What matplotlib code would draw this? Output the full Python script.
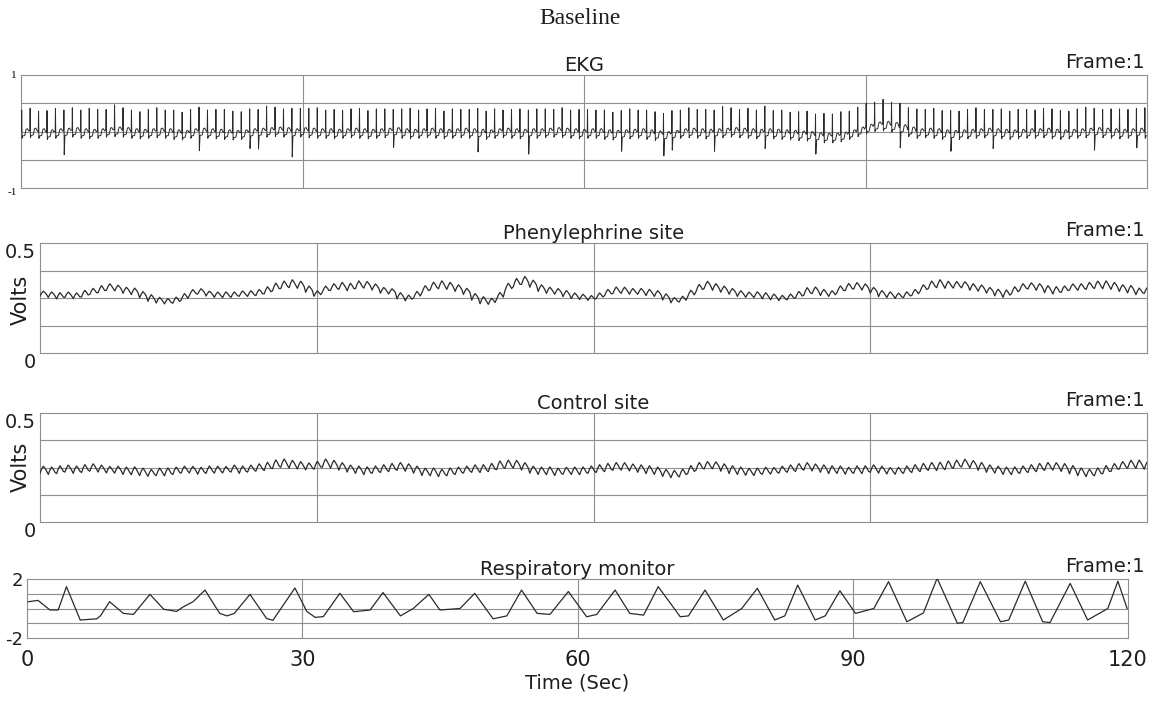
import numpy as np
import matplotlib
matplotlib.use('Agg')
import matplotlib.pyplot as plt

plt.rcParams['axes.unicode_minus'] = False
plt.rcParams['font.family'] = 'DejaVu Sans'

# ---------------- data ----------------
beat_period = 0.9          # s, heart rate is nearly constant over the record
resp_seconds = [0.15, 1.2, 2.5, 3.4, 4.3, 5.8, 7.6, 8.0, 9.0, 10.5, 11.6, 13.4, 14.9, 16.3, 17.0, 18.1,
                19.4, 21.0, 21.8, 22.6, 24.3, 26.1, 26.8, 29.2, 30.5, 31.4, 32.3, 34.1, 35.6, 37.4,
                38.8, 40.7, 42.1, 43.8, 45.0, 47.2, 48.8, 50.8, 52.3, 53.9, 55.6, 57.0, 59.0, 61.0,
                62.1, 64.1, 65.7, 67.2, 68.8, 71.2, 72.1, 73.9, 75.9, 77.9, 79.6, 81.5, 82.6, 84.0,
                85.9, 87.0, 88.6, 90.3, 92.3, 93.9, 95.9, 97.7, 99.2, 101.4, 102.0, 103.9, 106.1,
                107.0, 108.8, 110.7, 111.5, 113.7, 115.6, 117.8, 118.9, 119.9]
resp_volts = [0.46, 0.55, -0.1, -0.1, 1.48, -0.78, -0.7, -0.5, 0.46, -0.33, -0.4, 0.96, -0.05, -0.2, 0.1, 0.46,
              1.25, -0.33, -0.5, -0.33, 0.96, -0.67, -0.8, 1.39, -0.2, -0.6, -0.55, 1.03, -0.22, -0.1,
              1.08, -0.5, 0.0, 0.96, -0.1, 0.0, 1.03, -0.7, -0.5, 1.25, -0.33, -0.4, 1.15, -0.56,
              -0.4, 1.25, -0.33, -0.45, 1.48, -0.56, -0.5, 1.25, -0.78, 0.0, 1.37, -0.78, -0.5, 1.59,
              -0.78, -0.5, 1.2, -0.33, 0.0, 1.82, -0.9, -0.3, 2.05, -1.0, -0.95, 1.82, -0.9,
              -0.78, 1.85, -0.9, -0.95, 1.7, -0.78, 0.0, 1.85, 0.0]

# EKG: per-beat baseline and R height (volts)
ekg_baseline = [0.00, 0.01, 0.00, -0.02, 0.00, 0.01, 0.02, 0.00, -0.01, 0.00, 0.02, 0.03,
                0.02, 0.00, -0.01, 0.00, 0.01, 0.00, -0.02, -0.03, 0.00, 0.01, 0.00, -0.01,
                -0.02, -0.03, -0.02, 0.00, 0.01, 0.02, 0.03, 0.02, 0.00, 0.02, 0.01, 0.00,
                0.00, -0.01, 0.00, 0.01, 0.00, -0.01, 0.00, 0.01, 0.02, 0.00, -0.01, 0.00,
                0.01, 0.00, -0.01, 0.00, 0.01, 0.00, -0.01, -0.02, 0.00, 0.01, 0.00, -0.01,
                0.00, 0.00, 0.01, 0.02, 0.01, 0.00, -0.01, 0.00, 0.00, -0.02, -0.03, -0.02,
                -0.01, 0.00, -0.02, -0.04, -0.05, -0.03, 0.00, 0.01, 0.00, -0.01, 0.00, 0.01,
                0.02, 0.01, 0.00, -0.01, 0.00, -0.01, -0.02, -0.03, -0.04, -0.05, -0.07, -0.08,
                -0.08, -0.06, -0.02, 0.03, 0.08, 0.12, 0.13, 0.11, 0.07, 0.03, 0.00, 0.01,
                0.00, -0.02, -0.03, -0.02, -0.01, 0.00, 0.01, 0.00, -0.01, -0.02, -0.01, 0.00,
                0.00, 0.01, -0.01, -0.02, -0.01, 0.00, 0.01, 0.02, 0.01, 0.00, -0.01, 0.00, 0.01, 0.00]
ekg_r_height = [0.38, 0.40, 0.36, 0.39, 0.41, 0.37, 0.40, 0.38, 0.42, 0.39, 0.37, 0.44,
                0.40, 0.38, 0.36, 0.39, 0.41, 0.38, 0.40, 0.37, 0.39, 0.42, 0.38, 0.40,
                0.41, 0.39, 0.37, 0.40, 0.38, 0.43, 0.40, 0.38, 0.41, 0.39, 0.40, 0.42,
                0.38, 0.40, 0.37, 0.39, 0.41, 0.38, 0.40, 0.39, 0.37, 0.40, 0.42, 0.38,
                0.39, 0.41, 0.37, 0.40, 0.38, 0.39, 0.42, 0.38, 0.40, 0.37, 0.39, 0.41,
                0.38, 0.40, 0.39, 0.37, 0.41, 0.38, 0.40, 0.39, 0.38, 0.40, 0.37, 0.39,
                0.41, 0.38, 0.40, 0.39, 0.37, 0.40, 0.38, 0.41, 0.39, 0.40, 0.38, 0.43,
                0.40, 0.38, 0.41, 0.39, 0.45, 0.38, 0.40, 0.37, 0.39, 0.41, 0.38, 0.40,
                0.39, 0.41, 0.38, 0.40, 0.42, 0.40, 0.44, 0.41, 0.43, 0.39, 0.40, 0.38,
                0.41, 0.39, 0.40, 0.38, 0.40, 0.42, 0.38, 0.39, 0.41, 0.38, 0.40, 0.39,
                0.38, 0.40, 0.41, 0.39, 0.37, 0.40, 0.42, 0.39, 0.38, 0.40, 0.41, 0.39, 0.40, 0.42]
ekg_deep_s_beats = [5, 21, 27, 28, 32, 44, 54, 60, 71, 76, 77, 82, 88, 94, 104, 110, 115, 127, 132]
ekg_deep_s_volts = [-0.42, -0.35, -0.30, -0.32, -0.45, -0.30, -0.35, -0.40, -0.33, -0.38,
                    -0.30, -0.35, -0.30, -0.33, -0.36, -0.32, -0.30, -0.35, -0.30]
ekg_s_volts = -0.12
# one beat: fraction of period and volts above baseline (R and S filled per beat)
ekg_beat_phase = [0.0, 0.05, 0.08, 0.12, 0.20, 0.45, 0.60, 0.75, 0.90]
ekg_beat_shape = [0.0, 0.02, 'R', 'S', -0.08, -0.07, 0.04, 0.05, 0.01]

# pulse sites: per-beat mean level and peak-to-peak swing (volts)
phen_level = [0.27, 0.265, 0.26, 0.265, 0.26, 0.27, 0.28, 0.29, 0.30, 0.295, 0.285, 0.28,
              0.265, 0.25, 0.24, 0.235, 0.24, 0.255, 0.275, 0.28, 0.27, 0.265, 0.265, 0.265,
              0.27, 0.27, 0.275, 0.285, 0.30, 0.31, 0.315, 0.31, 0.29, 0.27, 0.29, 0.30,
              0.305, 0.30, 0.31, 0.31, 0.30, 0.285, 0.28, 0.26, 0.25, 0.265, 0.29, 0.305,
              0.31, 0.305, 0.295, 0.28, 0.255, 0.24, 0.235, 0.26, 0.30, 0.32, 0.33, 0.315,
              0.295, 0.285, 0.28, 0.27, 0.26, 0.255, 0.25, 0.26, 0.275, 0.285, 0.285, 0.28,
              0.28, 0.275, 0.27, 0.255, 0.24, 0.245, 0.27, 0.295, 0.31, 0.30, 0.29, 0.28,
              0.27, 0.265, 0.265, 0.26, 0.255, 0.25, 0.255, 0.265, 0.28, 0.285, 0.275, 0.27,
              0.29, 0.30, 0.305, 0.30, 0.285, 0.27, 0.265, 0.26, 0.265, 0.275, 0.295, 0.31,
              0.315, 0.31, 0.31, 0.31, 0.30, 0.295, 0.285, 0.275, 0.27, 0.285, 0.30, 0.305,
              0.30, 0.29, 0.285, 0.29, 0.30, 0.30, 0.305, 0.31, 0.31, 0.305, 0.295, 0.29, 0.28, 0.285]
phen_swing = [0.022, 0.025, 0.028, 0.024, 0.026, 0.03, 0.028, 0.032, 0.03, 0.026, 0.028, 0.03,
              0.028, 0.03, 0.026, 0.024, 0.028, 0.03, 0.026, 0.024, 0.022, 0.024, 0.026, 0.025,
              0.024, 0.026, 0.028, 0.032, 0.036, 0.034, 0.036, 0.032, 0.028, 0.024, 0.028, 0.03,
              0.032, 0.034, 0.036, 0.03, 0.028, 0.026, 0.024, 0.028, 0.026, 0.03, 0.032, 0.034,
              0.036, 0.032, 0.03, 0.028, 0.03, 0.032, 0.028, 0.03, 0.034, 0.038, 0.036, 0.032,
              0.03, 0.028, 0.026, 0.028, 0.026, 0.024, 0.022, 0.026, 0.028, 0.03, 0.028, 0.026,
              0.026, 0.028, 0.026, 0.028, 0.024, 0.026, 0.03, 0.034, 0.032, 0.03, 0.028, 0.026,
              0.026, 0.024, 0.026, 0.028, 0.026, 0.024, 0.026, 0.03, 0.034, 0.03, 0.028, 0.026,
              0.03, 0.032, 0.03, 0.028, 0.026, 0.028, 0.026, 0.024, 0.026, 0.028, 0.03, 0.034,
              0.036, 0.032, 0.03, 0.028, 0.03, 0.028, 0.026, 0.03, 0.034, 0.032, 0.03, 0.028,
              0.03, 0.032, 0.034, 0.03, 0.028, 0.03, 0.032, 0.034, 0.036, 0.032, 0.03, 0.034, 0.03, 0.028]
ctrl_level = [0.24, 0.235, 0.24, 0.245, 0.24, 0.245, 0.25, 0.245, 0.24, 0.24, 0.235, 0.235,
              0.23, 0.225, 0.23, 0.23, 0.235, 0.24, 0.24, 0.235, 0.24, 0.24, 0.24, 0.245,
              0.24, 0.245, 0.25, 0.255, 0.265, 0.27, 0.265, 0.26, 0.255, 0.26, 0.27, 0.265,
              0.255, 0.245, 0.24, 0.235, 0.24, 0.245, 0.25, 0.255, 0.25, 0.24, 0.23, 0.23,
              0.225, 0.23, 0.235, 0.24, 0.245, 0.245, 0.25, 0.26, 0.265, 0.265, 0.255, 0.24,
              0.235, 0.235, 0.23, 0.235, 0.235, 0.235, 0.24, 0.245, 0.25, 0.255, 0.255, 0.25,
              0.245, 0.24, 0.235, 0.225, 0.22, 0.225, 0.24, 0.255, 0.26, 0.26, 0.25, 0.24,
              0.235, 0.23, 0.23, 0.235, 0.235, 0.24, 0.245, 0.25, 0.255, 0.25, 0.245, 0.24,
              0.24, 0.235, 0.24, 0.24, 0.245, 0.24, 0.235, 0.235, 0.24, 0.245, 0.25, 0.255,
              0.255, 0.26, 0.265, 0.27, 0.265, 0.255, 0.245, 0.24, 0.235, 0.235, 0.24, 0.245,
              0.25, 0.255, 0.255, 0.25, 0.24, 0.23, 0.225, 0.23, 0.24, 0.25, 0.26, 0.265, 0.265, 0.26]
ctrl_swing = [0.032, 0.034, 0.036, 0.032, 0.034, 0.036, 0.034, 0.032, 0.03, 0.032, 0.034, 0.036,
              0.034, 0.032, 0.034, 0.036, 0.034, 0.032, 0.03, 0.032, 0.034, 0.032, 0.03, 0.032,
              0.034, 0.032, 0.034, 0.038, 0.04, 0.038, 0.036, 0.034, 0.032, 0.036, 0.038, 0.036,
              0.034, 0.032, 0.034, 0.036, 0.034, 0.036, 0.038, 0.036, 0.034, 0.032, 0.034, 0.036,
              0.034, 0.036, 0.034, 0.032, 0.034, 0.036, 0.038, 0.04, 0.038, 0.036, 0.034, 0.032,
              0.034, 0.036, 0.034, 0.032, 0.034, 0.036, 0.034, 0.036, 0.038, 0.036, 0.034, 0.032,
              0.034, 0.036, 0.034, 0.032, 0.034, 0.036, 0.038, 0.036, 0.034, 0.032, 0.034, 0.036,
              0.034, 0.032, 0.034, 0.032, 0.03, 0.032, 0.034, 0.036, 0.034, 0.032, 0.034, 0.036,
              0.034, 0.032, 0.034, 0.036, 0.034, 0.032, 0.03, 0.032, 0.034, 0.036, 0.038, 0.036,
              0.038, 0.04, 0.038, 0.036, 0.034, 0.036, 0.034, 0.032, 0.034, 0.036, 0.034, 0.036,
              0.038, 0.036, 0.034, 0.036, 0.038, 0.036, 0.034, 0.036, 0.038, 0.036, 0.034, 0.036, 0.038, 0.036]
# one pulse: fraction of period and fraction of the swing around the mean
pulse_phase = [0.0, 0.2, 0.4, 0.6, 0.8]
pulse_shape = [-0.5, 0.1, 0.5, 0.2, -0.2]

# ---------------- build traces ----------------
deep_s = dict(zip(ekg_deep_s_beats, ekg_deep_s_volts))
ekg_t, ekg_v = [], []
for i, (b, r) in enumerate(zip(ekg_baseline, ekg_r_height)):
    for ph, sh in zip(ekg_beat_phase, ekg_beat_shape):
        if sh == 'R':
            sh = r
        elif sh == 'S':
            sh = deep_s.get(i, ekg_s_volts)
        ekg_t.append((i + ph) * beat_period)
        ekg_v.append(b + sh)


def pulse_trace(level, swing):
    t, v = [], []
    for i, (c, a) in enumerate(zip(level, swing)):
        for ph, sh in zip(pulse_phase, pulse_shape):
            t.append((i + ph) * beat_period)
            v.append(c + sh * a)
    return t, v


phen_t, phen_v = pulse_trace(phen_level, phen_swing)
ctrl_t, ctrl_v = pulse_trace(ctrl_level, ctrl_swing)

# ---------------- figure ----------------
W, H = 1163, 706
fig = plt.figure(figsize=(W / 100, H / 100), dpi=100)


def px_axes(left, right, top, bottom):
    return fig.add_axes([left / W, 1 - bottom / H, (right - left) / W, (bottom - top) / H])


grid_c = '#8f8f8f'
line_c = '#2a2a2a'
text_c = '#1e1e1e'

panels = [
    # left, right, top, bottom, t, v, ylim, grid levels, title, line width
    (21, 1147, 75, 188, ekg_t, ekg_v, (-1, 1), [-0.5, 0, 0.5], 'EKG', 0.7),
    (40, 1147, 243, 353, phen_t, phen_v, (0, 0.5), [0.125, 0.25, 0.375], 'Phenylephrine site', 0.9),
    (40, 1147, 413, 522, ctrl_t, ctrl_v, (0, 0.5), [0.125, 0.25, 0.375], 'Control site', 0.9),
    (27, 1128, 579, 638, resp_seconds, resp_volts, (-2, 2), [-1, 0, 1], 'Respiratory monitor', 0.9),
]

axes = []
for left, right, top, bottom, t, v, ylim, levels, title, lw in panels:
    ax = px_axes(left, right, top, bottom)
    ax.set_xlim(0, 120)
    ax.set_ylim(*ylim)
    for y in levels:
        ax.axhline(y, color=grid_c, lw=0.8, zorder=1)
    for x in [30, 60, 90]:
        ax.axvline(x, color=grid_c, lw=0.8, zorder=1)
    ax.plot(t, v, color=line_c, lw=lw, zorder=3)
    for s in ax.spines.values():
        s.set_color(grid_c)
        s.set_linewidth(0.8)
    ax.set_xticks([])
    ax.tick_params(axis='y', length=0, pad=3)
    ax.set_title(title, fontsize=14, pad=1, color=text_c)
    fig.text(1145 / W, 1 - (top - 3) / H, 'Frame:1', ha='right', va='bottom',
             fontsize=14, color=text_c)
    axes.append(ax)

ax_ekg, ax_phen, ax_ctrl, ax_resp = axes

ax_ekg.set_yticks([1, -1])
ax_ekg.set_yticklabels(['1', '-1'], fontsize=8, family='Liberation Serif')
ax_ekg.get_yticklabels()[1].set_va('top')

for ax, yc in ((ax_phen, 300), (ax_ctrl, 467)):
    ax.set_yticks([0.5, 0])
    ax.set_yticklabels(['0.5', '0'], fontsize=14, color=text_c)
    ax.get_yticklabels()[0].set_va('top')
    ax.get_yticklabels()[1].set_va('top')
    fig.text(21 / W, 1 - yc / H, 'Volts', rotation=90, ha='center', va='center',
             fontsize=15, color=text_c)

ax_resp.set_yticks([2, -2])
ax_resp.set_yticklabels(['2', '-2'], fontsize=13, color=text_c)
ax_resp.set_xticks([0, 30, 60, 90, 120])
ax_resp.tick_params(axis='x', length=0, pad=9, labelsize=15, labelcolor=text_c)
ax_resp.set_xlabel('Time (Sec)', fontsize=14, labelpad=2, color=text_c)

fig.text(580 / W, 1 - 18 / H, 'Baseline', ha='center', va='center',
         fontsize=17, family='Liberation Serif', color=text_c)

fig.savefig('out.png', dpi=100)
